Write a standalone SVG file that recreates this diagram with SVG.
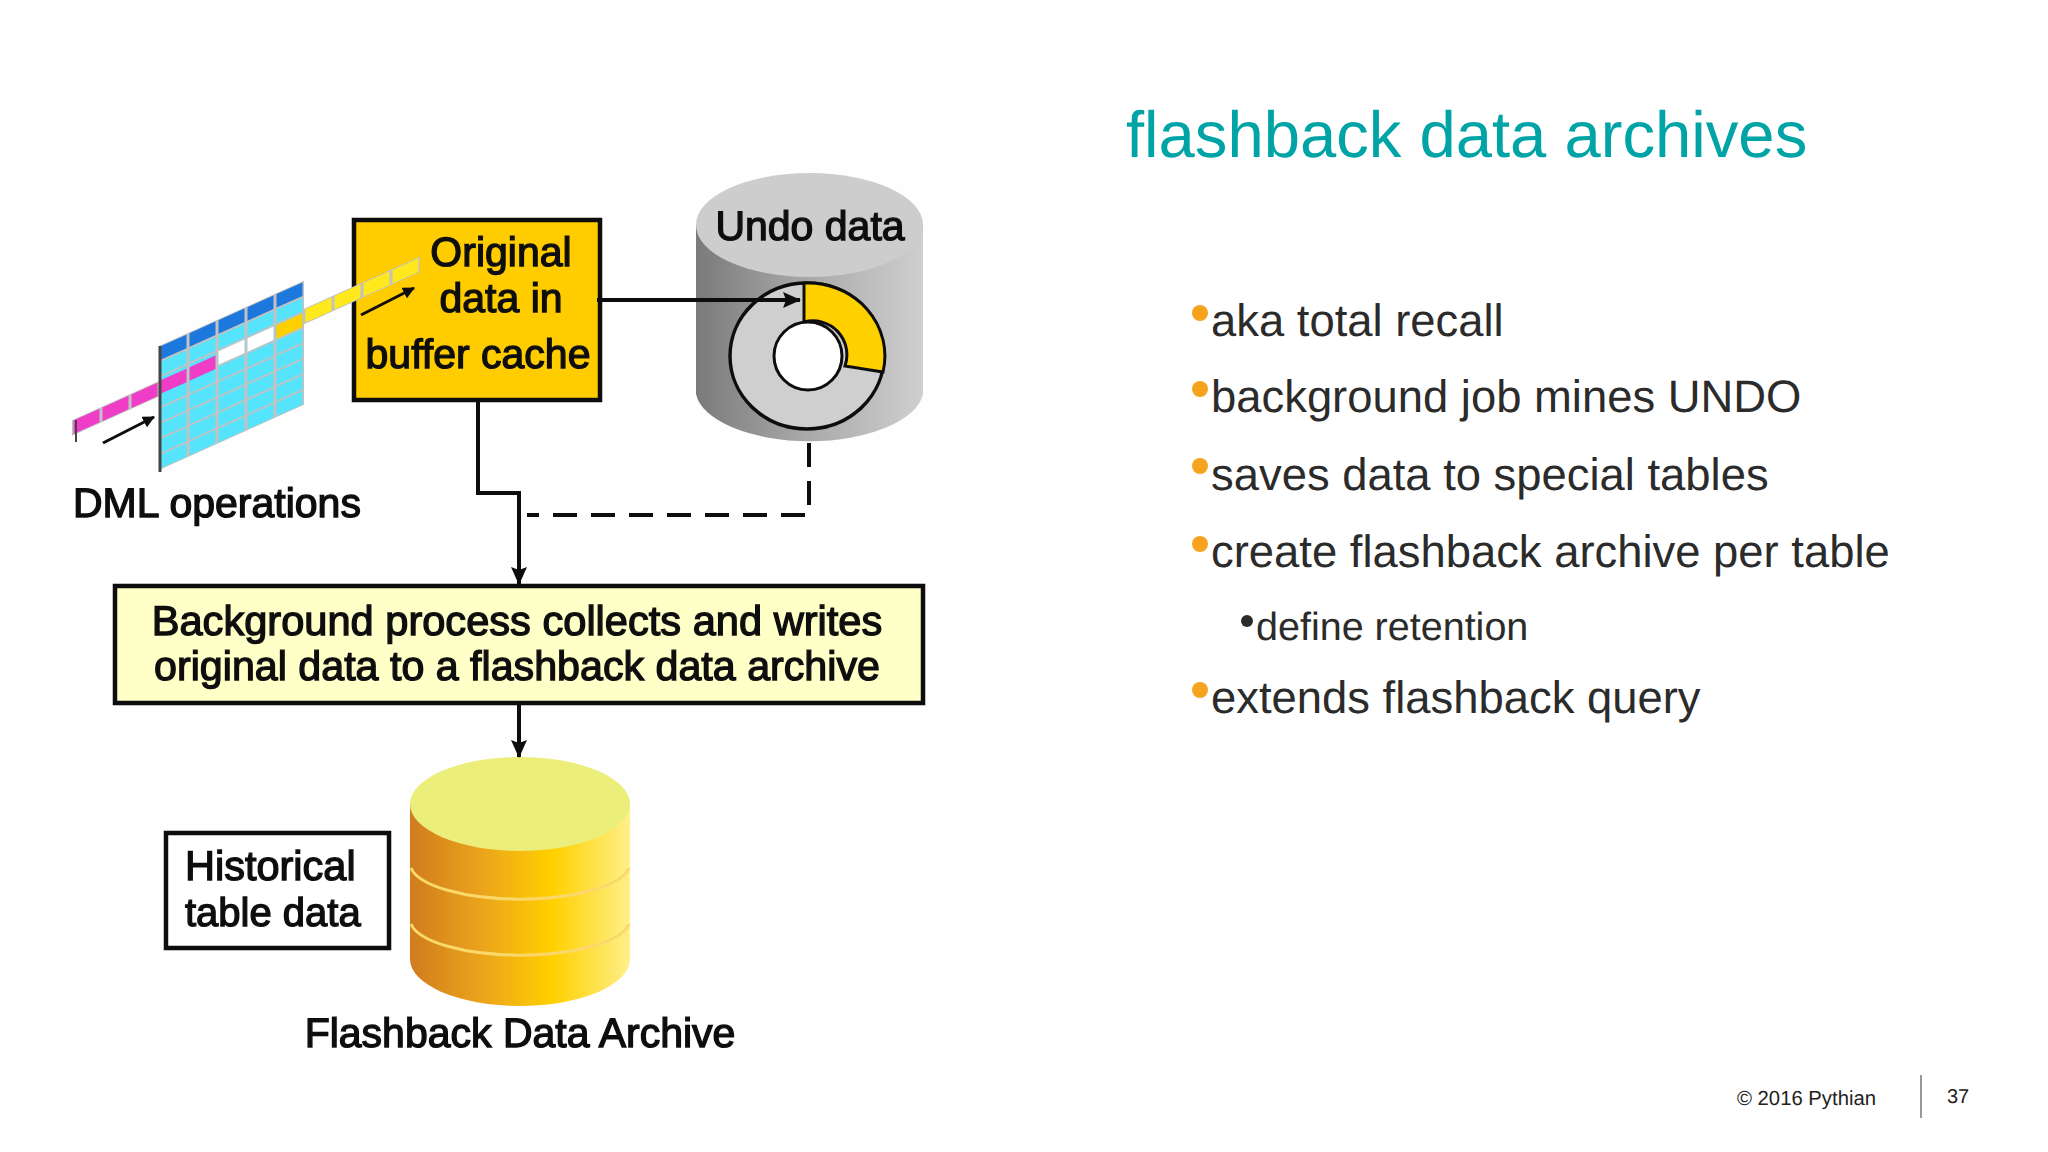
<svg xmlns="http://www.w3.org/2000/svg" xmlns:xlink="http://www.w3.org/1999/xlink" width="2048" height="1152" viewBox="0 0 2048 1152">
<style>
text{font-family:"Liberation Sans",Arial,sans-serif;text-rendering:geometricPrecision}
.d{font-size:41px;fill:#111;stroke:#111;stroke-width:1.350px}
.m{text-anchor:middle}
.b{font-size:45.400px;fill:#2b2b2b}
.box{stroke:#111;stroke-width:4.500}
.ln{fill:none;stroke:#111;stroke-width:4}
.dash{stroke-dasharray:24 14}
.cy{fill:#55e4fb}.bl{fill:#1f78dc}.pk{fill:#f03cc8}.ye{fill:#ffe81a}.ya{fill:#ffd000}.wh{fill:#fff}
.fr{fill:#c2c2c2}
.o{fill:#f5a31c}
</style>
<defs>
<linearGradient id="gGrey" x1="0" x2="1" y1="0" y2="0"><stop offset="0" stop-color="#7a7a7a"/><stop offset=".45" stop-color="#a6a6a6"/><stop offset="1" stop-color="#cfcfcf"/></linearGradient>
<linearGradient id="gGold" x1="0" x2="1" y1="0" y2="0"><stop offset="0" stop-color="#d07c20"/><stop offset=".35" stop-color="#eda71a"/><stop offset=".65" stop-color="#ffd000"/><stop offset="1" stop-color="#fff08a"/></linearGradient>
<marker id="ah" markerUnits="userSpaceOnUse" markerWidth="18" markerHeight="16" refX="17" refY="8" orient="auto"><path d="M0 0L18 8L0 16L3 8Z" fill="#111"/></marker>
<marker id="as" markerUnits="userSpaceOnUse" markerWidth="12" markerHeight="12" refX="11" refY="6" orient="auto"><path d="M0 0L12 6L0 12Z" fill="#111"/></marker>
<filter id="soft" x="-5%" y="-5%" width="110%" height="110%"><feGaussianBlur stdDeviation=".7"/></filter>
<g id="col"><rect x="1.500" y="1" width="26" height="13.500" class="bl"/><rect x="1.500" y="16.500" width="26" height="13.500" class="cy"/><rect x="1.500" y="32" width="26" height="13.500" class="cy"/><rect x="1.500" y="47.500" width="26" height="13.500" class="cy"/><rect x="1.500" y="63" width="26" height="13.500" class="cy"/><rect x="1.500" y="78.500" width="26" height="13.500" class="cy"/><rect x="1.500" y="94" width="26" height="13.500" class="cy"/><rect x="1.500" y="109.500" width="26" height="13.500" class="cy"/></g>
</defs>
<rect width="2048" height="1152" fill="#fff"/>
<rect x="30" y="140" width="950" height="930" fill="#fefefe"/>
<g filter="url(#soft)">
<g id="buffer-cache"><rect x="354" y="220" width="246" height="180" fill="#ffcc00" class="box"/>
<text class="d m" x="501" y="266">Original</text><text class="d m" x="501" y="312">data in</text><text class="d m" x="478" y="368">buffer cache</text></g>
<g id="undo-data">
<path d="M696 225V394A114 52 0 0 0 923 394V225Z" fill="url(#gGrey)"/>
<ellipse cx="809.500" cy="225" rx="113.500" ry="52" fill="#cdcdcd"/>
<text class="d m" x="810" y="240">Undo data</text>
<ellipse cx="807" cy="356" rx="77" ry="73" fill="#cfcfcf" stroke="#111" stroke-width="3.500"/>
<path d="M804 283A77 73 0 0 1 883 372L845 366A34 34 0 0 0 804 322Z" fill="#ffd000" stroke="#111" stroke-width="3"/>
<circle cx="808" cy="356" r="34" fill="#fff" stroke="#111" stroke-width="3"/>
</g>
<g id="dml-table">
<g transform="matrix(1 -.45 0 1 159 346)">
<rect x="-87" y="35" width="87" height="15.500" class="fr"/>
<rect x="145" y="28" width="116" height="15.500" class="fr"/>
<rect x="0" y="0" width="145" height="124" class="fr"/>
<use xlink:href="#col" href="#col"/><use xlink:href="#col" href="#col" x="29"/><use xlink:href="#col" href="#col" x="58"/><use xlink:href="#col" href="#col" x="87"/><use xlink:href="#col" href="#col" x="116"/>
<rect x="-85.500" y="36" width="26" height="13.500" class="pk"/><rect x="-56.500" y="36" width="26" height="13.500" class="pk"/><rect x="-27.500" y="36" width="26" height="13.500" class="pk"/><rect x="1.500" y="35" width="26" height="13.500" class="pk"/><rect x="30.500" y="35" width="26" height="13.500" class="pk"/>
<rect x="59.500" y="32" width="26" height="13.500" class="wh"/><rect x="88.500" y="32" width="26" height="13.500" class="wh"/>
<rect x="117.500" y="32" width="26" height="13.500" class="ya"/><rect x="146.500" y="29" width="26" height="13.500" class="ye"/><rect x="175.500" y="29" width="26" height="13.500" class="ye"/><rect x="204.500" y="29" width="26" height="13.500" class="ye"/><rect x="233.500" y="29" width="26" height="13.500" class="ye"/>
</g>
<path d="M160 346V472" stroke="#444" stroke-width="3"/><path d="M76 420V442" stroke="#444" stroke-width="2"/>
<text class="d" x="73" y="517">DML operations</text>
</g>
<g id="background-process"><rect x="115" y="586" width="808" height="117" fill="#ffffc8" class="box"/>
<text class="d m" x="517" y="635" style="font-size:41.600px">Background process collects and writes</text><text class="d m" x="517" y="680" style="font-size:41.200px">original data to a flashback data archive</text></g>
<g id="flashback-archive">
<path d="M410 804V959A110 47 0 0 0 630 959V804Z" fill="url(#gGold)"/>
<path d="M411 868A110 36 0 0 0 629 868M411 924A110 36 0 0 0 629 924" fill="none" stroke="#fbd86a" stroke-width="3"/>
<ellipse cx="520" cy="804" rx="110" ry="47" fill="#ebee7a"/>
<text class="d m" x="520" y="1047">Flashback Data Archive</text></g>
<g id="historical"><rect x="166" y="833" width="223" height="115" fill="#fff" class="box"/>
<text class="d" x="185" y="880" style="font-size:41.500px">Historical</text><text class="d" x="185" y="926" style="font-size:40px">table data</text></g>
<g id="connectors">
<path class="ln" d="M597 300H800" marker-end="url(#ah)"/>
<path class="ln" d="M478 400V493H519V584" marker-end="url(#ah)"/>
<path class="ln dash" d="M809 443V515H527"/>
<path class="ln" d="M519 703V757" marker-end="url(#ah)"/>
<path class="ln" style="stroke-width:3" d="M103 443L154 417" marker-end="url(#as)"/>
<path class="ln" style="stroke-width:3" d="M361 315L414 288" marker-end="url(#as)"/>
</g>
</g>
<g id="title"><text x="1126" y="157" font-size="65.200" fill="#00a3a6">flashback data archives</text></g>
<g id="bullets">
<circle class="o" cx="1200" cy="313" r="8"/><text class="b" x="1211" y="336">aka total recall</text>
<circle class="o" cx="1200" cy="389" r="8"/><text class="b" x="1211" y="412">background job mines UNDO</text>
<circle class="o" cx="1200" cy="466" r="8"/><text class="b" x="1211" y="490">saves data to special tables</text>
<circle class="o" cx="1200" cy="544" r="8"/><text class="b" x="1211" y="567">create flashback archive per table</text>
<circle cx="1247" cy="621" r="6" fill="#2b2b2b"/><text x="1256" y="640" font-size="39.500" fill="#2b2b2b">define retention</text>
<circle class="o" cx="1200" cy="690" r="8"/><text class="b" x="1211" y="713">extends flashback query</text>
</g>
<g id="footer">
<text x="1737" y="1105" font-size="20.300" fill="#222">© 2016 Pythian</text>
<rect x="1920" y="1075" width="2" height="43" fill="#999"/>
<text x="1947" y="1103" font-size="20" fill="#222">37</text>
</g>
</svg>
